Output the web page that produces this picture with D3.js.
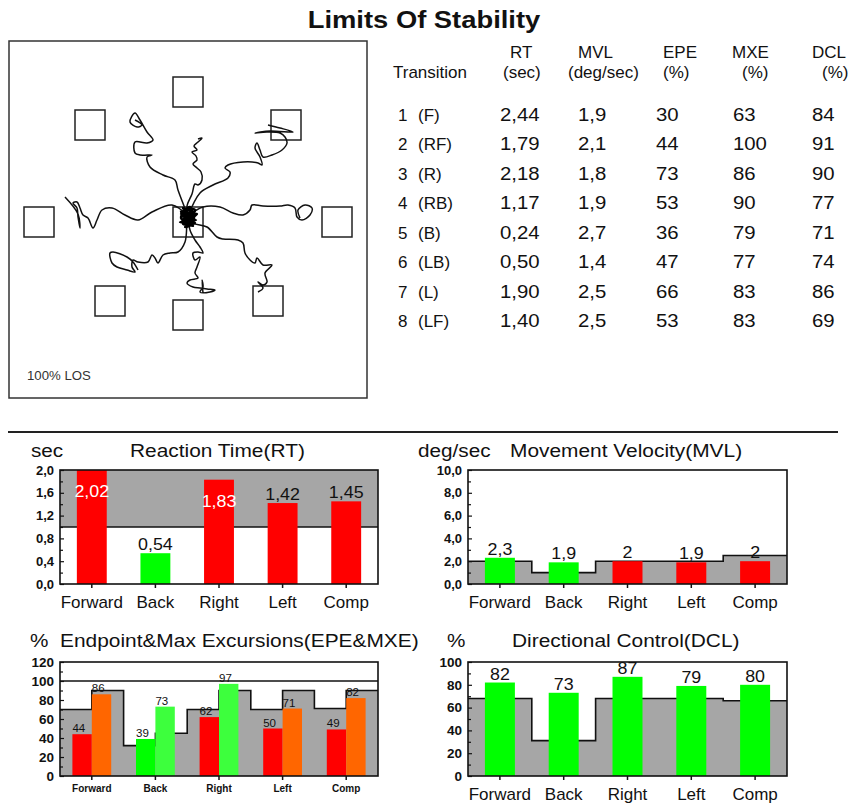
<!DOCTYPE html>
<html>
<head>
<meta charset="utf-8">
<script src="https://cdn.jsdelivr.net/npm/d3@7"></script>
<style>
  body { margin: 0; background: #fff; }
  svg text { font-family: "Liberation Sans", Arial, sans-serif; fill: #111; }
</style>
</head>
<body>
<div id="chart"></div>
<script>
// ---- table data ----
const rowNums = [1, 2, 3, 4, 5, 6, 7, 8];
const rowDirs = ["(F)", "(RF)", "(R)", "(RB)", "(B)", "(LB)", "(L)", "(LF)"];
const tableRT = [2.44, 1.79, 2.18, 1.17, 0.24, 0.50, 1.90, 1.40];
const tableMVL = [1.9, 2.1, 1.8, 1.9, 2.7, 1.4, 2.5, 2.5];
const tableEPE = [30, 44, 73, 53, 36, 47, 66, 53];
const tableMXE = [63, 100, 86, 90, 79, 77, 83, 83];
const tableDCL = [84, 91, 90, 77, 71, 74, 86, 69];

// ---- bar chart data ----
const directions = ["Forward", "Back", "Right", "Left", "Comp"];
const rtValues = [2.02, 0.54, 1.83, 1.42, 1.45];
const rtNorm = [1.0, 1.0, 1.0, 1.0, 1.0];
const rtTicks = [0, 0.4, 0.8, 1.2, 1.6, 2.0];
const mvlValues = [2.3, 1.9, 2.0, 1.9, 2.0];
const mvlNorm = [2.0, 1.0, 2.0, 2.0, 2.5];
const mvlTicks = [0, 2, 4, 6, 8, 10];
const epeValues = [44, 39, 62, 50, 49];
const mxeValues = [86, 73, 97, 71, 82];
const epeNorm = [70, 32, 70, 70, 71];
const mxeNorm = [90, 45, 90, 90, 90];
const epeTicks = [0, 20, 40, 60, 80, 100, 120];
const dclValues = [82, 73, 87, 79, 80];
const dclNorm = [68, 31, 68, 68, 66];
const dclTicks = [0, 20, 40, 60, 80, 100];

// ---- LOS trace data (units ~ % of plot, 0,0 = centre, y up) ----
const targetX = [0, 98, 149, 80, 0, -78, -149, -98, 0];
const targetY = [130, 97, 0, -79, -93, -79, 0, 97, 0];
const traceF = [[-1,16],[4,28],[7,38],[10,37],[14,42],[13,50],[9,54],[5,58],[9,62],[8,66],[4,70],[9,72],[6,76],[10,80],[14,84],[10,83]];
const traceRF = [[12,29],[25,37],[40,44],[42,50],[37,54],[40,57],[55,60],[70,59],[74,57],[72,65],[67,74],[69,79],[72,72],[75,65],[84,67],[94,72],[99,79],[97,85],[92,89],[79,90],[67,89],[82,91],[105,90],[92,94],[80,97]];
const traceR = [[15,15],[32,15],[45,9],[55,7],[62,12],[64,17],[75,16],[92,16],[100,17],[107,14],[109,5],[114,2],[122,7],[124,14],[117,17],[110,12],[112,4]];
const traceRB = [[5,-1],[19,-5],[29,-15],[35,-17],[50,-18],[55,-21],[57,-31],[62,-38],[67,-41],[69,-36],[75,-43],[84,-43],[77,-51],[79,-60],[75,-63],[70,-60],[75,-66],[70,-70]];
const traceB = [[2,-8],[7,-18],[12,-25],[15,-31],[10,-30],[5,-31],[7,-38],[12,-35],[9,-45],[7,-51],[10,-56],[2,-58],[-1,-61],[5,-65],[12,-66],[19,-67],[27,-68],[22,-70],[12,-70],[15,-65],[14,-58],[15,-71]];
const traceLB = [[-1,0],[-3,-20],[-10,-30],[-18,-31],[-25,-33],[-30,-41],[-33,-36],[-36,-33],[-40,-40],[-50,-40],[-55,-38],[-56,-45],[-53,-50],[-61,-48],[-71,-45],[-76,-41],[-78,-31],[-75,-30],[-61,-35],[-55,-40],[-50,-48]];
const traceL = [[-16,17],[-36,10],[-50,2],[-63,7],[-76,14],[-86,12],[-91,2],[-95,-6],[-100,4],[-105,7],[-108,14],[-111,20],[-115,19],[-111,14],[-110,5],[-108,-6],[-110,8],[-123,25]];
const traceLF = [[-10,32],[-13,42],[-25,47],[-38,55],[-41,65],[-36,67],[-48,67],[-53,69],[-53,80],[-41,79],[-35,82],[-41,90],[-48,102],[-53,109],[-58,100],[-51,95],[-46,97],[-53,102]];
const centreBlob = [[-6,14],[5,10],[-7,8],[6,6],[-5,3],[8,2],[-8,0],[4,-2],[-3,-5],[7,12],[-4,12],[3,4],[-6,6],[9,8],[-2,-1],[5,-4],[-7,4],[2,15],[6,1],[-3,9],[4,7],[-5,-2],[7,-1],[-1,3],[3,11],[-8,10]];

const RED = "#ff0000", GREEN = "#00ff00", ORANGE = "#ff6600", LGREEN = "#3dff3d", GRAY = "#a6a6a6";

const loc = d3.formatLocale({decimal: ",", thousands: ".", grouping: [3], currency: ["", ""]});

const svg = d3.select("#chart").append("svg")
  .attr("width", 849)
  .attr("height", 803);

// text with a horizontal stretch (the original font runs wide)
function sText(g, x, y, str, size, sx, anchor, weight) {
  return g.append("text")
    .attr("transform", `translate(${x},${y}) scale(${sx},1)`)
    .attr("font-size", size)
    .attr("font-weight", weight || "normal")
    .attr("text-anchor", anchor || "start")
    .text(str);
}

// title
sText(svg, 424, 28, "Limits Of Stability", 23, 1.19, "middle", "bold");

// ---------------- LOS trace box ----------------
const los = svg.append("g");
const sx = d3.scaleLinear().domain([-179, 179]).range([9, 367]);
const sy = d3.scaleLinear().domain([181, -176]).range([41, 398]);

los.append("rect")
  .attr("x", sx(-179)).attr("y", sy(181))
  .attr("width", sx(179) - sx(-179)).attr("height", sy(-176) - sy(181))
  .attr("fill", "none").attr("stroke", "#333").attr("stroke-width", 1.5);

los.selectAll("rect.target")
  .data(targetX.map((d, i) => [d, targetY[i]]))
  .join("rect")
  .attr("class", "target")
  .attr("x", d => sx(d[0] - 15))
  .attr("y", d => sy(d[1] + 15))
  .attr("width", sx(15) - sx(-15))
  .attr("height", sy(-15) - sy(15))
  .attr("fill", "none").attr("stroke", "#222").attr("stroke-width", 1.5);

const traceLine = d3.line()
  .x(d => sx(d[0]))
  .y(d => sy(d[1]))
  .curve(d3.curveCatmullRom.alpha(0.5));

[traceF, traceRF, traceR, traceRB, traceB, traceLB, traceL, traceLF].forEach(t => {
  los.append("path")
    .attr("d", traceLine([[0, 6]].concat(t)))
    .attr("fill", "none").attr("stroke", "#111").attr("stroke-width", 1.5);
});
los.append("path")
  .attr("d", traceLine(centreBlob))
  .attr("fill", "none").attr("stroke", "#000").attr("stroke-width", 2.4);

sText(los, 27, 380, "100% LOS", 12, 1.1, "start").style("fill", "#333");

// ---------------- table ----------------
const tbl = svg.append("g");
const headers = [
  {t1: "", t2: "Transition", x1: 0, x2: 393},
  {t1: "RT", t2: "(sec)", x1: 510, x2: 503},
  {t1: "MVL", t2: "(deg/sec)", x1: 578, x2: 568},
  {t1: "EPE", t2: "(%)", x1: 663, x2: 663},
  {t1: "MXE", t2: "(%)", x1: 732, x2: 742},
  {t1: "DCL", t2: "(%)", x1: 812, x2: 822}
];
headers.forEach(h => {
  if (h.t1) sText(tbl, h.x1, 58, h.t1, 17, 1.0, "start");
  sText(tbl, h.x2, 78, h.t2, 17, 1.0, "start");
});
const rowY = d3.scalePoint().domain(rowNums).range([121, 327]);
const colX = [500, 578, 656, 733, 812];
const cols = [
  tableRT.map(loc.format(".2f")),
  tableMVL.map(loc.format(".1f")),
  tableEPE.map(String),
  tableMXE.map(String),
  tableDCL.map(String)
];
rowNums.forEach((n, i) => {
  const y = rowY(n);
  sText(tbl, 398, y, String(n), 17, 1.0, "start");
  sText(tbl, 418, y, rowDirs[i], 17, 1.0, "start");
  cols.forEach((c, j) => sText(tbl, colX[j], y, c[i], 18.5, 1.1, "start"));
});

// separator
svg.append("line")
  .attr("x1", 8).attr("x2", 838).attr("y1", 432).attr("y2", 432)
  .attr("stroke", "#222").attr("stroke-width", 2);

// ---------------- bar panels ----------------
function makePanel(cfg) {
  const g = svg.append("g");
  const x = d3.scaleBand().domain(directions).range([cfg.left, cfg.right])
    .paddingInner(cfg.pad).paddingOuter(cfg.pad / 2);
  const xs = d3.scaleBand().domain(directions).range([cfg.left, cfg.right]);
  const y = d3.scaleLinear().domain([0, d3.max(cfg.ticks)]).range([cfg.bottom, cfg.top]);
  sText(g, cfg.unitX, cfg.titleY, cfg.unit, 18.5, 1.12, "start");
  sText(g, cfg.titleX, cfg.titleY, cfg.title, 18.5, 1.13, "start");
  return {g, x, xs, y, cfg};
}

function stepPoints(p, norm) {
  const bw = p.xs.bandwidth();
  return directions.flatMap((d, i) => [[p.xs(d), norm[i]], [p.xs(d) + bw, norm[i]]]);
}

function drawNorm(p, pts, fromTop) {
  const base = fromTop ? p.cfg.top : p.cfg.bottom;
  p.g.append("path")
    .attr("d", d3.area().x(d => d[0]).y0(base).y1(d => p.y(d[1]))(pts))
    .attr("fill", GRAY);
  p.g.append("path")
    .attr("d", d3.line().x(d => d[0]).y(d => p.y(d[1]))(pts))
    .attr("fill", "none").attr("stroke", "#111").attr("stroke-width", 1.6);
}

function drawFrame(p) {
  const c = p.cfg;
  const ya = p.g.append("g")
    .attr("transform", `translate(${c.left},0)`)
    .call(d3.axisLeft(p.y).tickValues(c.ticks).tickSize(-4).tickPadding(6).tickFormat(c.fmt));
  ya.select(".domain").remove();
  ya.attr("font-family", null);
  ya.selectAll("text").attr("font-size", c.tickFont).attr("font-weight", "bold");
  ya.selectAll("line").attr("stroke", "#111").attr("stroke-width", 1.2);

  const minor = d3.pairs(c.ticks).map(pr => d3.mean(pr));
  const ym = p.g.append("g")
    .attr("transform", `translate(${c.left},0)`)
    .call(d3.axisLeft(p.y).tickValues(minor).tickSize(-3).tickFormat(() => ""));
  ym.select(".domain").remove();
  ym.selectAll("line").attr("stroke", "#111").attr("stroke-width", 1.2);

  const xa = p.g.append("g")
    .attr("transform", `translate(0,${c.bottom})`)
    .call(d3.axisBottom(p.x).tickSize(4).tickPadding(c.xPad));
  xa.select(".domain").remove();
  xa.attr("font-family", null);
  xa.selectAll("text").attr("font-size", c.xFont).attr("font-weight", c.xWeight || "normal");
  xa.selectAll("line").attr("stroke", "#111").attr("stroke-width", 1.5);

  p.g.append("rect")
    .attr("x", c.left).attr("y", c.top)
    .attr("width", c.right - c.left).attr("height", c.bottom - c.top)
    .attr("fill", "none").attr("stroke", "#111").attr("stroke-width", 1.6);
}

function drawBars(p, values, colorOf, fmt) {
  const top = p.y.domain()[1];
  p.g.selectAll("rect.bar")
    .data(values)
    .join("rect")
    .attr("class", "bar")
    .attr("x", (d, i) => p.x(directions[i]))
    .attr("y", d => p.y(Math.min(d, top)))
    .attr("width", p.x.bandwidth())
    .attr("height", d => p.cfg.bottom - p.y(Math.min(d, top)))
    .attr("fill", colorOf);
  values.forEach((v, i) => {
    const cx = p.x(directions[i]) + p.x.bandwidth() / 2;
    const yTop = p.y(Math.min(v, top));
    const inside = yTop - 15 < p.cfg.top && p.cfg.inside;
    sText(p.g, cx, inside ? yTop + 27 : yTop - 3, fmt(v), 17, 1.05, "middle")
      .style("fill", inside ? "#fff" : "#111");
  });
}

// Reaction time
const rt = makePanel({left: 60, right: 378, top: 470, bottom: 584, pad: 0.53, ticks: rtTicks,
  fmt: loc.format(".1f"), tickFont: 13, xFont: 17, xPad: 8, inside: true,
  unit: "sec", unitX: 31, title: "Reaction Time(RT)", titleX: 130, titleY: 457});
drawNorm(rt, stepPoints(rt, rtNorm), true);
drawBars(rt, rtValues, (d, i) => d > rtNorm[i] ? RED : GREEN, loc.format(".2f"));
drawFrame(rt);

// Movement velocity
const mvl = makePanel({left: 468, right: 787, top: 470, bottom: 584, pad: 0.53, ticks: mvlTicks,
  fmt: loc.format(".1f"), tickFont: 13, xFont: 17, xPad: 8,
  unit: "deg/sec", unitX: 418, title: "Movement Velocity(MVL)", titleX: 510, titleY: 457});
drawNorm(mvl, stepPoints(mvl, mvlNorm), false);
drawBars(mvl, mvlValues, (d, i) => d > mvlNorm[i] ? GREEN : RED, loc.format(".1~f"));
drawFrame(mvl);

// Endpoint & max excursion
const epe = makePanel({left: 60, right: 378, top: 662, bottom: 776, pad: 0.39, ticks: epeTicks,
  fmt: d3.format("d"), tickFont: 13.5, xFont: 10, xWeight: "bold", xPad: 5,
  unit: "%", unitX: 30, title: "Endpoint&Max Excursions(EPE&MXE)", titleX: 60, titleY: 647});
const ebw = epe.xs.bandwidth();
const epePts = directions.flatMap((d, i) => [
  [epe.xs(d), epeNorm[i]], [epe.xs(d) + ebw / 2, epeNorm[i]],
  [epe.xs(d) + ebw / 2, mxeNorm[i]], [epe.xs(d) + ebw, mxeNorm[i]]
]);
drawNorm(epe, epePts, false);
epe.g.append("line")
  .attr("x1", epe.cfg.left).attr("x2", epe.cfg.right)
  .attr("y1", epe.y(100)).attr("y2", epe.y(100))
  .attr("stroke", "#111").attr("stroke-width", 1.6);
const sub = d3.scaleBand().domain(["EPE", "MXE"]).range([0, epe.x.bandwidth()]);
const epeRows = directions.map((d, i) => [
  {dir: d, key: "EPE", v: epeValues[i], c: epeValues[i] > epeNorm[i] ? GREEN : RED},
  {dir: d, key: "MXE", v: mxeValues[i], c: mxeValues[i] > mxeNorm[i] ? LGREEN : ORANGE}
]).flat();
epe.g.selectAll("rect.bar")
  .data(epeRows)
  .join("rect")
  .attr("class", "bar")
  .attr("x", d => epe.x(d.dir) + sub(d.key))
  .attr("y", d => epe.y(d.v))
  .attr("width", sub.bandwidth())
  .attr("height", d => epe.cfg.bottom - epe.y(d.v))
  .attr("fill", d => d.c);
epeRows.forEach(d => {
  sText(epe.g, epe.x(d.dir) + sub(d.key), epe.y(d.v) - 2, String(d.v), 11, 1.05, "start");
});
drawFrame(epe);

// Directional control
const dcl = makePanel({left: 468, right: 787, top: 662, bottom: 776, pad: 0.53, ticks: dclTicks,
  fmt: d3.format("d"), tickFont: 13.5, xFont: 17, xPad: 8,
  unit: "%", unitX: 447, title: "Directional Control(DCL)", titleX: 512, titleY: 647});
drawNorm(dcl, stepPoints(dcl, dclNorm), false);
drawBars(dcl, dclValues, (d, i) => d > dclNorm[i] ? GREEN : RED, d3.format("d"));
drawFrame(dcl);
</script>
</body>
</html>
